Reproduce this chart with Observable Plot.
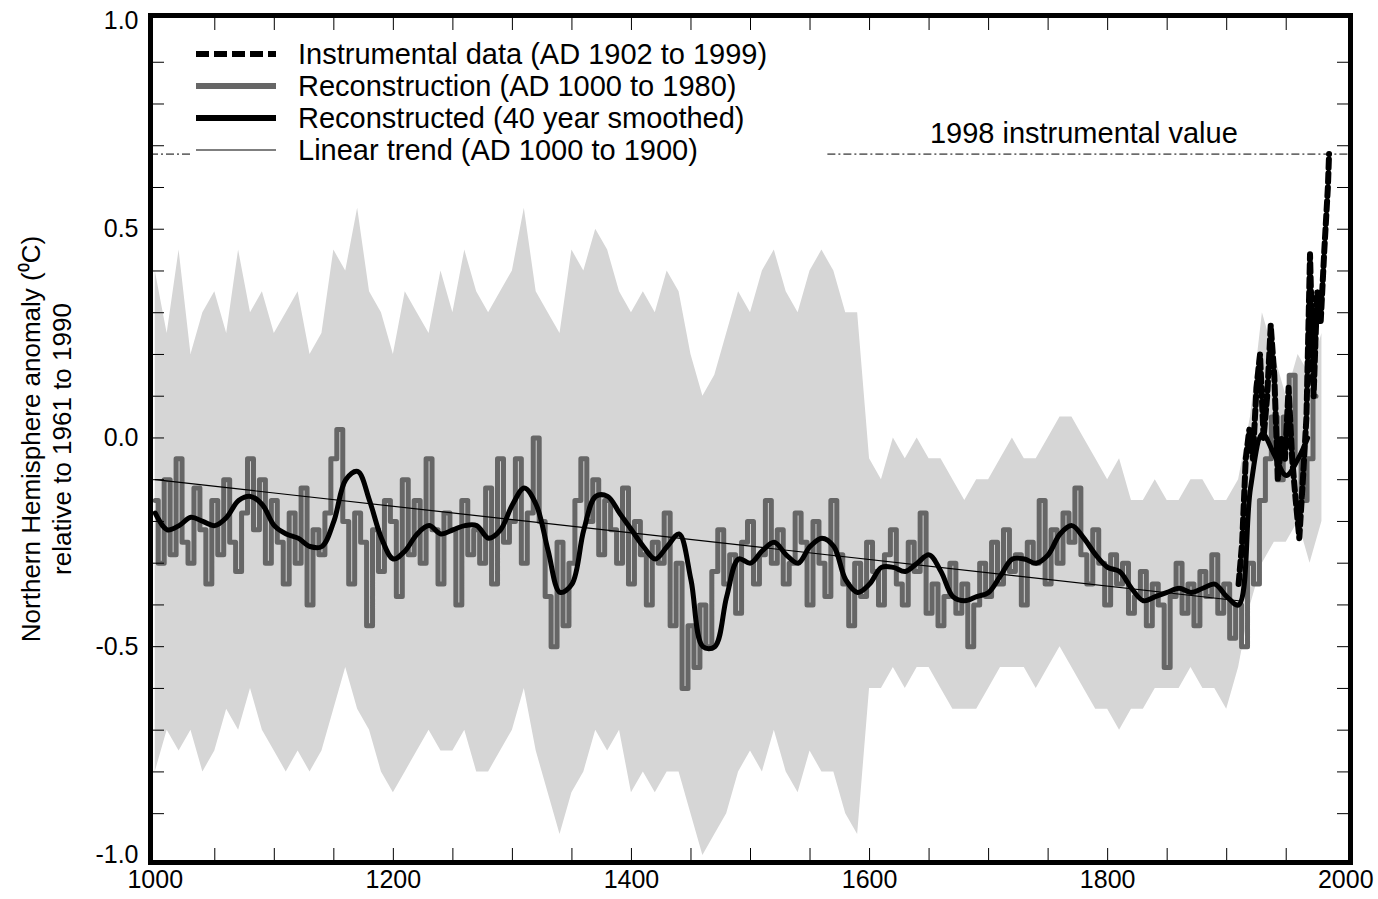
<!DOCTYPE html>
<html><head><meta charset="utf-8">
<script src="https://cdn.jsdelivr.net/npm/d3@7"></script>
<script src="https://cdn.jsdelivr.net/npm/@observablehq/plot@0.6"></script>
<style>body{margin:0;background:#fff;font-family:Arial,"Liberation Sans",sans-serif}#wrap{position:relative;width:1378px;height:899px}
#legend{position:absolute;left:196px;top:38px;font-size:29px;line-height:32px;color:#000}
#legend div{display:flex;align-items:center;height:32px}
#legend svg{margin-right:22px}</style>
</head><body><div id="wrap"><div id="chart"></div>
<div id="legend">
<div><svg width="80" height="10"><line x1="0" y1="5" x2="80" y2="5" stroke="#000" stroke-width="6" stroke-dasharray="13,5"/></svg>Instrumental data (AD 1902 to 1999)</div>
<div><svg width="80" height="10"><line x1="0" y1="5" x2="80" y2="5" stroke="#666" stroke-width="6"/></svg>Reconstruction (AD 1000 to 1980)</div>
<div><svg width="80" height="10"><line x1="0" y1="5" x2="80" y2="5" stroke="#000" stroke-width="6"/></svg>Reconstructed (40 year smoothed)</div>
<div><svg width="80" height="10"><line x1="0" y1="5" x2="80" y2="5" stroke="#000" stroke-width="1.2"/></svg>Linear trend (AD 1000 to 1900)</div>
</div></div>
<script>
// Band (uncertainty), every 10 years from 1000
const bandYears = d3.range(1000, 1981, 10);
const bandUpper = [0.40,0.25,0.45,0.20,0.30,0.35,0.25,0.45,0.30,0.35,0.25,0.30,0.35,0.20,0.25,0.45,0.40,0.55,0.35,0.30,0.20,0.35,0.30,0.25,0.40,0.30,0.45,0.35,0.30,0.35,0.40,0.55,0.35,0.30,0.25,0.45,0.40,0.50,0.45,0.35,0.30,0.35,0.30,0.40,0.35,0.20,0.10,0.15,0.25,0.35,0.30,0.40,0.45,0.35,0.30,0.40,0.45,0.40,0.30,0.30,-0.05,-0.10,0.0,-0.05,0.0,-0.05,-0.05,-0.10,-0.15,-0.10,-0.10,-0.05,0.0,-0.05,-0.05,0.0,0.05,0.05,0.0,-0.05,-0.10,-0.05,-0.15,-0.15,-0.10,-0.15,-0.15,-0.10,-0.10,-0.15,-0.15,-0.10,0.05,0.30,0.20,0.10,0.20,0.15,0.25];
const bandLower = [-0.80,-0.70,-0.75,-0.70,-0.80,-0.75,-0.65,-0.70,-0.60,-0.70,-0.75,-0.80,-0.75,-0.80,-0.75,-0.65,-0.55,-0.65,-0.70,-0.80,-0.85,-0.80,-0.75,-0.70,-0.75,-0.75,-0.70,-0.80,-0.80,-0.75,-0.70,-0.60,-0.75,-0.85,-0.95,-0.85,-0.80,-0.70,-0.75,-0.70,-0.85,-0.80,-0.85,-0.80,-0.80,-0.90,-1.00,-0.95,-0.90,-0.80,-0.75,-0.80,-0.70,-0.80,-0.85,-0.75,-0.80,-0.80,-0.90,-0.95,-0.60,-0.60,-0.55,-0.60,-0.55,-0.55,-0.60,-0.65,-0.65,-0.65,-0.60,-0.55,-0.55,-0.55,-0.60,-0.55,-0.50,-0.55,-0.60,-0.65,-0.65,-0.70,-0.65,-0.65,-0.60,-0.60,-0.60,-0.55,-0.60,-0.60,-0.65,-0.55,-0.40,-0.30,-0.25,-0.25,-0.20,-0.30,-0.20];
// Reconstruction, every 5 years
const reconYears = d3.range(1000, 1976, 5);
const reconValues = [-0.15,-0.30,-0.10,-0.28,-0.05,-0.25,-0.30,-0.12,-0.22,-0.35,-0.15,-0.28,-0.10,-0.25,-0.32,-0.18,-0.05,-0.22,-0.10,-0.30,-0.15,-0.25,-0.35,-0.18,-0.30,-0.12,-0.40,-0.22,-0.28,-0.18,-0.05,0.02,-0.20,-0.35,-0.18,-0.25,-0.45,-0.22,-0.32,-0.15,-0.20,-0.38,-0.10,-0.28,-0.15,-0.30,-0.05,-0.22,-0.35,-0.18,-0.22,-0.40,-0.15,-0.28,-0.22,-0.30,-0.12,-0.35,-0.05,-0.25,-0.20,-0.05,-0.30,-0.18,0.00,-0.20,-0.38,-0.50,-0.25,-0.45,-0.30,-0.15,-0.05,-0.20,-0.10,-0.28,-0.15,-0.22,-0.30,-0.12,-0.35,-0.20,-0.28,-0.40,-0.25,-0.30,-0.18,-0.45,-0.30,-0.60,-0.45,-0.55,-0.40,-0.50,-0.32,-0.22,-0.35,-0.28,-0.42,-0.25,-0.20,-0.35,-0.28,-0.15,-0.30,-0.22,-0.35,-0.30,-0.18,-0.25,-0.40,-0.20,-0.30,-0.38,-0.15,-0.28,-0.35,-0.45,-0.30,-0.38,-0.25,-0.32,-0.40,-0.28,-0.22,-0.35,-0.40,-0.25,-0.32,-0.18,-0.42,-0.35,-0.45,-0.38,-0.30,-0.42,-0.35,-0.50,-0.40,-0.30,-0.38,-0.25,-0.35,-0.22,-0.32,-0.28,-0.40,-0.25,-0.30,-0.15,-0.35,-0.22,-0.30,-0.18,-0.25,-0.12,-0.28,-0.35,-0.22,-0.30,-0.40,-0.28,-0.35,-0.30,-0.42,-0.38,-0.32,-0.45,-0.35,-0.40,-0.55,-0.38,-0.30,-0.42,-0.35,-0.45,-0.32,-0.38,-0.28,-0.42,-0.35,-0.48,-0.40,-0.50,-0.30,-0.35,-0.15,-0.05,0.05,-0.10,0.05,0.15,-0.05,-0.15,-0.05,0.10,-0.10,-0.20,-0.05];
// Smoothed, every 10 years (positions as drawn)
const smoothYears = d3.range(1000, 1911, 10).concat([1920,1930,1940,1950,1960,1968]);
const smoothValues = [-0.18,-0.22,-0.21,-0.19,-0.20,-0.21,-0.19,-0.15,-0.14,-0.16,-0.21,-0.23,-0.24,-0.26,-0.26,-0.20,-0.10,-0.08,-0.15,-0.24,-0.29,-0.27,-0.23,-0.21,-0.23,-0.22,-0.21,-0.21,-0.24,-0.22,-0.16,-0.12,-0.16,-0.27,-0.37,-0.35,-0.22,-0.14,-0.14,-0.18,-0.22,-0.26,-0.29,-0.26,-0.23,-0.34,-0.50,-0.50,-0.38,-0.29,-0.30,-0.27,-0.25,-0.28,-0.30,-0.26,-0.24,-0.26,-0.34,-0.37,-0.35,-0.31,-0.31,-0.32,-0.30,-0.28,-0.32,-0.38,-0.39,-0.38,-0.37,-0.33,-0.29,-0.29,-0.30,-0.28,-0.23,-0.21,-0.24,-0.28,-0.31,-0.32,-0.36,-0.39,-0.38,-0.37,-0.36,-0.37,-0.36,-0.35,-0.38,-0.40,-0.12,0.01,-0.04,-0.09,-0.05,0.00];
// Instrumental (positions as drawn)
const instYears = [1910,1913,1916,1919,1922,1925,1928,1931,1934,1937,1940,1943,1946,1949,1952,1955,1958,1961,1964,1967,1970,1973,1976,1979,1982,1985,1986];
const instValues = [-0.35,-0.25,-0.05,0.02,-0.05,0.12,0.20,0.00,0.10,0.27,0.15,-0.10,0.00,-0.05,0.12,-0.05,-0.15,-0.24,-0.10,0.05,0.44,0.10,0.35,0.28,0.45,0.60,0.68];
const trendYears = [1000, 1910];
const trendValues = [-0.10, -0.39];
const value1998 = 0.68;

const band = bandYears.map((y,i)=>({year:y, hi:bandUpper[i], lo:bandLower[i]}));
const recon = reconYears.map((y,i)=>({year:y, v:reconValues[i]}));
const smooth = smoothYears.map((y,i)=>({year:y, v:smoothValues[i]}));
const inst = instYears.map((y,i)=>({year:y, v:instValues[i]}));
const trend = trendYears.map((y,i)=>({year:y, v:trendValues[i]}));

const chart = Plot.plot({
  width:1378, height:899,
  marginLeft:150, marginRight:28, marginTop:15, marginBottom:37,
  style:{fontFamily:"Arial, 'Liberation Sans', sans-serif", fontSize:"25px", background:"#fff"},
  x:{domain:[996,2004]},
  y:{domain:[-1.017,1.012]},
  marks:[
    Plot.areaY(band,{x:"year", y1:"lo", y2:"hi", fill:"#d6d6d6"}),
    Plot.line(recon,{x:"year", y:"v", stroke:"#666", strokeWidth:5, curve:"step"}),
    Plot.line(trend,{x:"year", y:"v", stroke:"#000", strokeWidth:1.2}),
    Plot.line(smooth,{x:"year", y:"v", stroke:"#000", strokeWidth:5, curve:"catmull-rom"}),
    Plot.line(inst,{x:"year", y:"v", stroke:"#000", strokeWidth:6, strokeDasharray:"9,5"}),
    Plot.ruleY([value1998],{x1:1565, x2:2004, stroke:"#000", strokeWidth:1, strokeDasharray:"8,3,2,3"}),
    Plot.ruleY([value1998],{x1:996, x2:1030, stroke:"#000", strokeWidth:1, strokeDasharray:"8,3,2,3"}),
    Plot.text(["1998 instrumental value"],{x:1780, y:value1998, dy:-20, fontSize:29}),
    Plot.axisX({ticks:d3.range(1000,2001,200), tickSize:0, tickPadding:8, tickFormat:d=>String(d), fontSize:25, label:null}),
    Plot.axisX({anchor:"bottom", ticks:d3.range(1050,2000,50), tickSize:-14, tickFormat:()=>"", label:null}),
    Plot.axisX({anchor:"top", ticks:d3.range(1050,2000,50), tickSize:-14, tickFormat:()=>"", label:null}),
    Plot.axisY({ticks:[-1,-0.5,0,0.5,1], tickSize:0, tickPadding:12, tickFormat:d=>d.toFixed(1), fontSize:25, label:null}),
    Plot.axisY({anchor:"left", ticks:d3.range(-9,10).map(d=>d/10), tickSize:-14, tickFormat:()=>"", label:null}),
    Plot.axisY({anchor:"right", ticks:d3.range(-9,10).map(d=>d/10), tickSize:-14, tickFormat:()=>"", label:null}),
    Plot.text(["Northern Hemisphere anomaly (⁰C)\nrelative to 1961 to 1990"],{frameAnchor:"left", dx:-105, rotate:-90, textAnchor:"middle", fontSize:26, lineHeight:1.2}),
    Plot.frame({stroke:"#000", strokeWidth:5})
  ]
});
document.getElementById("chart").appendChild(chart);
</script></body></html>
